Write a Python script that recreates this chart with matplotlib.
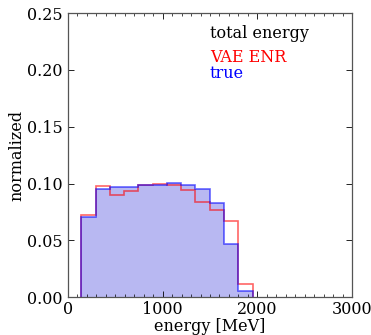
import matplotlib
matplotlib.use("Agg")
import matplotlib.pyplot as plt
import numpy as np
from matplotlib.ticker import MultipleLocator

bin_edges = [143, 294, 444, 595, 745, 896, 1046, 1197, 1347, 1498, 1648, 1799, 1950]
true_vals = [0.0707, 0.0951, 0.0965, 0.0965, 0.0983, 0.0991, 0.1003, 0.0986, 0.0954, 0.0826, 0.0465, 0.0052]
vae_vals = [0.0724, 0.0980, 0.0899, 0.0934, 0.0991, 0.0997, 0.0991, 0.0942, 0.0840, 0.0764, 0.0668, 0.0119]
x_ticks = [0, 1000, 2000, 3000]
y_ticks = [0.00, 0.05, 0.10, 0.15, 0.20, 0.25]

plt.rcParams['font.family'] = 'DejaVu Serif'
plt.rcParams['font.size'] = 11.5

fig = plt.figure(figsize=(3.71, 3.35), dpi=100)
ax = fig.add_axes([0.183, 0.113, 0.766, 0.848])

centers = (np.array(bin_edges[:-1]) + np.array(bin_edges[1:])) / 2
ax.hist(centers, bins=bin_edges, weights=true_vals, histtype='stepfilled',
        color=(0.45, 0.45, 0.9), alpha=0.5, lw=0)
ax.hist(centers, bins=bin_edges, weights=vae_vals, histtype='step',
        color='red', alpha=0.6, lw=1.2)
ax.hist(centers, bins=bin_edges, weights=true_vals, histtype='step',
        color='blue', alpha=0.6, lw=1.2)

ax.set_xlim(0, 3000)
ax.set_ylim(0, 0.25)
ax.set_xticks(x_ticks)
ax.set_yticks(y_ticks)
ax.set_yticklabels([f"{v:.2f}" for v in y_ticks])
ax.xaxis.set_minor_locator(MultipleLocator(100))
ax.tick_params(which='both', direction='in', top=True, right=True)
ax.tick_params(which='major', length=4, width=0.6)
ax.tick_params(axis='x', which='major', pad=3)
ax.tick_params(axis='y', which='major', pad=4)
ax.tick_params(which='minor', length=2, width=0.5)
for s in ax.spines.values():
    s.set_color('#555555')
    s.set_linewidth(0.9)

ax.set_xlabel('energy [MeV]', labelpad=0)
ax.set_ylabel('normalized', labelpad=1)

ax.text(0.50, 0.928, 'total energy', transform=ax.transAxes, color='black', va='center')
ax.text(0.50, 0.844, 'VAE ENR', transform=ax.transAxes, color='red', va='center')
ax.text(0.50, 0.787, 'true', transform=ax.transAxes, color='blue', va='center')

fig.savefig('out.png', dpi=100)
